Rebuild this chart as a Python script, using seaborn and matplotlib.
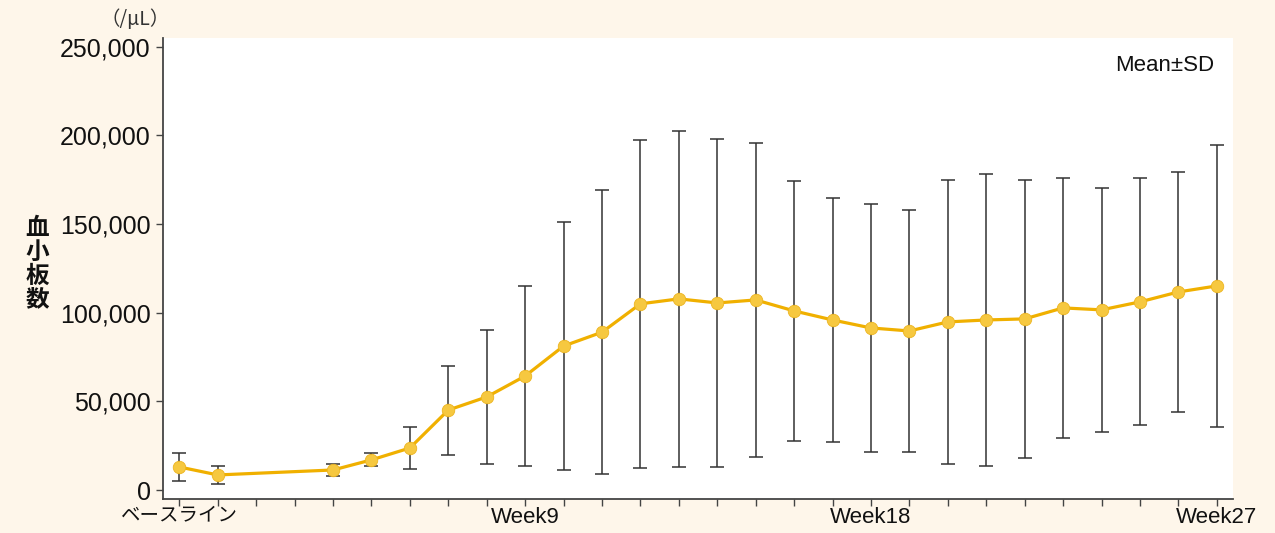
import numpy as np
import pandas as pd
import matplotlib
matplotlib.use("Agg")
import matplotlib.pyplot as plt
import seaborn as sns

# ===============================
# Data
# ===============================
weeks = [0, 1, 4, 5, 6, 7, 8, 9, 10, 11, 12, 13, 14, 15, 16, 17, 18, 19, 20,
         21, 22, 23, 24, 25, 26, 27]
mean_plt = [13000, 8500, 11300, 17000, 23700, 45100, 52500, 64300, 81200,
            89000, 105000, 107800, 105500, 107200, 101000, 95900, 91400,
            89700, 94800, 95900, 96500, 102700, 101600, 106100, 111700, 115100]
sd_plt = [7900, 5100, 3400, 3700, 11900, 25100, 37800, 50500, 70000, 80100,
          92300, 94800, 92500, 88600, 73400, 68600, 69700, 68300, 80100,
          82400, 78200, 73400, 68800, 69700, 67700, 79300]
tick_weeks = list(range(0, 28))
label_weeks = {0: "ベースライン", 9: "Week9", 18: "Week18", 27: "Week27"}

df = pd.DataFrame({"week": weeks, "mean": mean_plt, "sd": sd_plt})

# ===============================
# Style
# ===============================
bg = "#FEF6EA"
gold = "#F0B000"
sns.set_theme(style="white")
plt.rcParams["font.family"] = ["Liberation Sans", "Noto Sans CJK JP", "DejaVu Sans"]

fig = plt.figure(figsize=(12.75, 5.33), dpi=100, facecolor=bg)
ax = fig.add_axes([0.128, 0.064, 0.839, 0.865])
ax.set_facecolor("white")

# error bars (SD)
ax.errorbar(df["week"], df["mean"], yerr=df["sd"], fmt="none",
            ecolor="#333333", elinewidth=1.1, capsize=5, capthick=1.1, zorder=2)

# mean line
sns.lineplot(data=df, x="week", y="mean", ax=ax, color=gold, linewidth=2.3,
             marker="o", markersize=9, markerfacecolor="#F6C840",
             markeredgecolor="#EDB520", markeredgewidth=0.6, zorder=3)

ax.set_xlim(-0.42, 27.42)
ax.set_ylim(-5000, 255000)
ax.set_yticks([0, 50000, 100000, 150000, 200000, 250000])
ax.set_yticklabels(["0", "50,000", "100,000", "150,000", "200,000", "250,000"],
                   fontsize=18, color="#111111")
ax.set_xticks(tick_weeks)
ax.set_xticklabels([label_weeks.get(w, "") for w in tick_weeks],
                   fontsize=16, color="#111111")
ax.get_xticklabels()[0].set_fontsize(14)
ax.tick_params(axis="both", which="both", direction="out", length=5,
               width=1, color="#444444", bottom=True, left=True)
ax.tick_params(axis="x", pad=1)
ax.tick_params(axis="y", pad=4)

for side in ["top", "right"]:
    ax.spines[side].set_visible(False)
for side in ["left", "bottom"]:
    ax.spines[side].set_color("#444444")
    ax.spines[side].set_linewidth(1.3)

ax.set_xlabel("")
ax.set_ylabel("")

# labels
fig.text(0.029, 0.505, "血\n小\n板\n数", fontsize=17, fontweight="bold",
         family=["Noto Sans CJK JP"], ha="center", va="center",
         linespacing=0.98, color="#111111")
fig.text(0.106, 0.963, "（/μL）", fontsize=14, family=["Noto Sans CJK JP"],
         ha="center", va="center", color="#333333")
ax.text(0.983, 0.94, "Mean±SD", transform=ax.transAxes, fontsize=16,
        ha="right", va="center", color="#111111")

fig.savefig("out.png", dpi=100, facecolor=bg)
